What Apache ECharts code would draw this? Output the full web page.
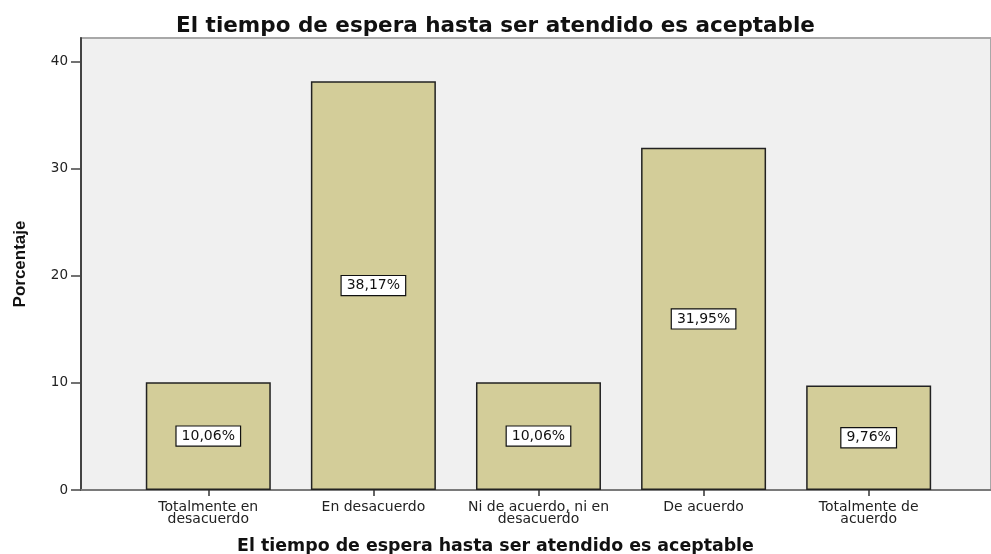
<!DOCTYPE html>
<html>
<head>
<meta charset="utf-8">
<script src="https://cdn.jsdelivr.net/npm/echarts@6/dist/echarts.min.js"></script>
<style>html,body{margin:0;padding:0;background:#fff;}#c{width:991px;height:554px;}</style>
</head>
<body>
<div id="c"></div>
<script>
var chartTitle = 'El tiempo de espera hasta ser atendido es aceptable';
var categories = ['Totalmente en\ndesacuerdo', 'En desacuerdo', 'Ni de acuerdo, ni en\ndesacuerdo', 'De acuerdo', 'Totalmente de\nacuerdo'];
var percentages = [10.06, 38.17, 10.06, 31.95, 9.76];
var valueLabels = ['10,06%', '38,17%', '10,06%', '31,95%', '9,76%'];
var yTicks = [0, 10, 20, 30, 40];
var positions = [0, 1, 2, 3, 4];

var chart = echarts.init(document.getElementById('c'));
chart.setOption({
  animation: false,
  backgroundColor: '#ffffff',
  title: [
    { text: chartTitle, left: 'center', top: 10,
      textStyle: { fontFamily: 'DejaVu Sans', fontWeight: 'bold', fontSize: 21.5, color: '#111' } },
    { text: chartTitle, left: 'center', top: 533,
      textStyle: { fontFamily: 'DejaVu Sans', fontWeight: 'bold', fontSize: 17.4, color: '#111' } }
  ],
  grid: { left: 81, right: -6, top: 38, bottom: 64, show: true, backgroundColor: '#f0f0f0', borderColor: '#a8a8a8', borderWidth: 2 },
  xAxis: {
    type: 'value', min: -0.771, max: 4.741,
    splitLine: { show: false },
    axisLine: { show: true, onZero: false, lineStyle: { color: '#7a7a7a', width: 2 } },
    axisTick: { show: true, customValues: positions, length: 6, inside: false, lineStyle: { color: '#333', width: 1.5 } },
    axisLabel: {
      customValues: positions, margin: 11,
      formatter: function (v) { return categories[Math.round(v)] || ''; },
      fontFamily: 'DejaVu Sans', fontSize: 14, lineHeight: 12, color: '#222'
    }
  },
  yAxis: {
    type: 'value', min: 0, max: 42.2, interval: 10,
    name: 'Porcentaje', nameLocation: 'middle', nameRotate: 90, nameGap: 52,
    nameTextStyle: { fontFamily: 'Liberation Sans', fontWeight: 'bold', fontSize: 17, color: '#111' },
    splitLine: { show: false },
    axisLine: { show: true, onZero: false, lineStyle: { color: '#444', width: 2 } },
    axisTick: { show: true, customValues: yTicks, length: 10, lineStyle: { color: '#444', width: 1.5 } },
    axisLabel: {
      customValues: yTicks,
      margin: 13, fontFamily: 'DejaVu Sans', fontSize: 13.5, color: '#222',
      formatter: function (v) { return String(v); }
    }
  },
  series: [{
    type: 'bar',
    barWidth: 125,
    data: percentages.map(function (v, i) { return [positions[i], v]; }),
    itemStyle: { color: '#d3cd99', borderColor: '#222', borderWidth: 1.5 },
    label: {
      show: true, position: 'inside',
      formatter: function (p) { return valueLabels[p.dataIndex]; },
      fontFamily: 'DejaVu Sans', fontSize: 14, color: '#111',
      backgroundColor: '#ffffff', borderColor: '#111', borderWidth: 1.2,
      padding: [3, 5, 2, 5]
    }
  }]
});
</script>
</body>
</html>
